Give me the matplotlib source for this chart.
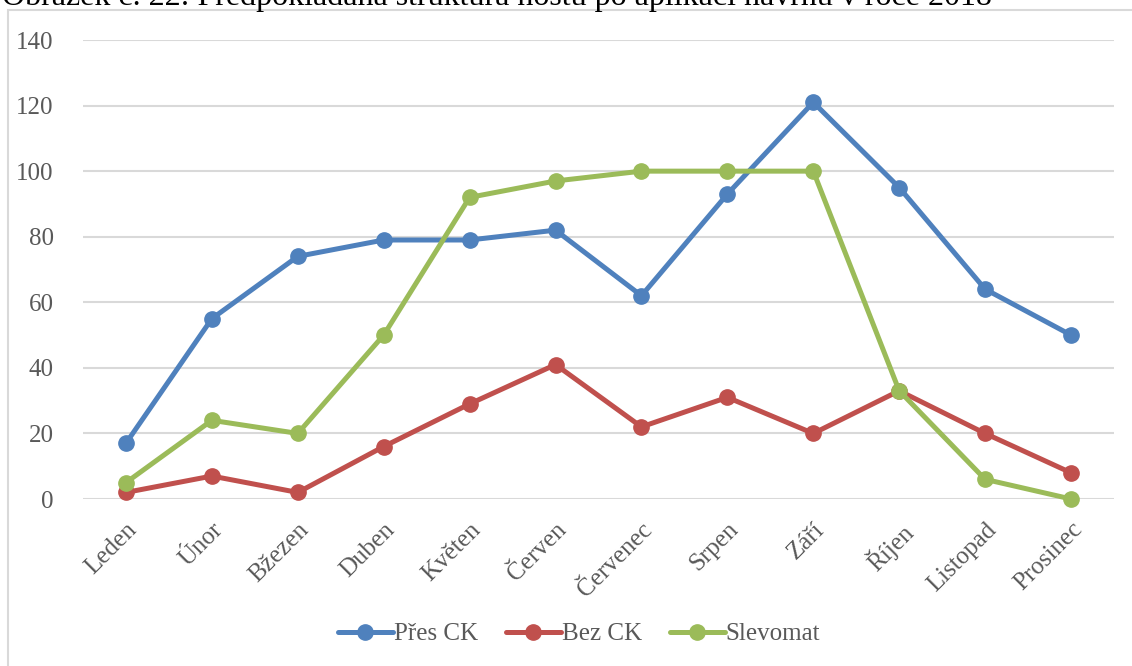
import matplotlib.pyplot as plt
from matplotlib.patches import Rectangle

# data
months = ['Leden', 'Únor', 'Bžezen', 'Duben', 'Květen', 'Červen',
          'Červenec', 'Srpen', 'Září', 'Říjen', 'Listopad', 'Prosinec']
pres_ck = [17, 55, 74, 79, 79, 82, 62, 93, 121, 95, 64, 50]
bez_ck = [2, 7, 2, 16, 29, 41, 22, 31, 20, 33, 20, 8]
slevomat = [5, 24, 20, 50, 92, 97, 100, 100, 100, 33, 6, 0]
yticks = [0, 20, 40, 60, 80, 100, 120, 140]

plt.rcParams['font.family'] = ['Liberation Serif', 'DejaVu Serif']

W, H = 1132, 666
fig = plt.figure(figsize=(W / 100, H / 100), dpi=100)
ax = fig.add_axes([83 / W, 1 - 499 / H, (1114 - 83) / W, (499 - 40) / H])

x = range(len(months))
series = [(pres_ck, 'Přes CK', '#4F81BD'),
          (bez_ck, 'Bez CK', '#C0504D'),
          (slevomat, 'Slevomat', '#9BBB59')]
for vals, name, col in series:
    ax.plot(x, vals, color=col, lw=3.6, marker='o', ms=11,
            solid_capstyle='round', label=name, zorder=3, clip_on=False)

ax.set_xlim(-0.5, 11.5)
ax.set_ylim(0, 140)
ax.set_yticks(yticks)
ax.set_xticks(list(x))
ax.set_xticklabels(months, rotation=45, ha='right', va='top',
                   rotation_mode='anchor')
ax.tick_params(length=0, labelsize=18, labelcolor='#595959')
ax.tick_params(axis='y', pad=21)
ax.tick_params(axis='x', pad=14)
ax.grid(axis='y', color='#D9D9D9', lw=1.5)
ax.set_axisbelow(True)
for s in ax.spines.values():
    s.set_visible(False)

fig.legend(loc='center', bbox_to_anchor=(579 / W, 1 - 634 / H), ncol=3,
           frameon=False, fontsize=18, labelcolor='#595959',
           handlelength=2.2, handletextpad=0.05, columnspacing=1.1)

# chart frame (cut off at right and bottom in the original)
fig.add_artist(Rectangle((8 / W, -0.1), 1.2, 1.1 - 10 / H, transform=fig.transFigure,
                         fill=False, ec='#D9D9D9', lw=1.5))

fig.text(2 / W, 1 - 5 / H,
         'Obrázek č. 22: Předpokládaná struktura hostů po aplikaci návrhu v roce 2018',
         fontsize=23, color='black', va='baseline', ha='left')

fig.savefig('out.png', dpi=100)
